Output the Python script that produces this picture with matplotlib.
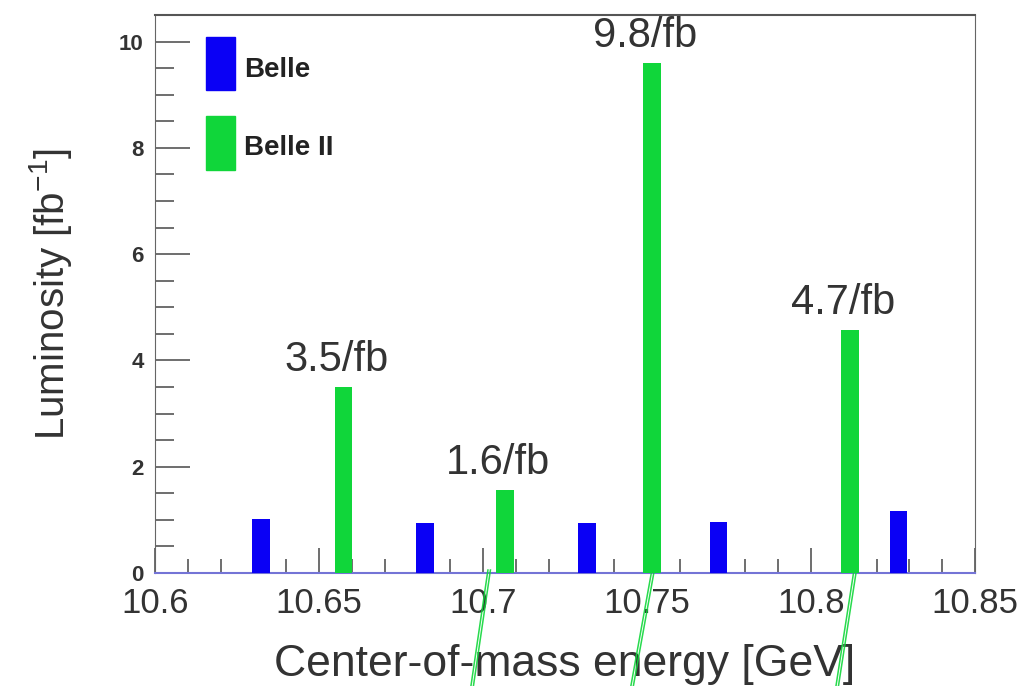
import numpy as np
import matplotlib.pyplot as plt
from matplotlib.ticker import MultipleLocator, FixedLocator
from matplotlib.lines import Line2D

plt.rcParams['font.family'] = ['Liberation Sans', 'DejaVu Sans']
plt.rcParams['mathtext.fontset'] = 'custom'
plt.rcParams['mathtext.rm'] = 'Liberation Sans'

# --- Data ---
belle_E = [10.6323, 10.6823, 10.7317, 10.7718, 10.8267]
belle_L = [1.01, 0.94, 0.94, 0.96, 1.17]
belle2_E = [10.6575, 10.7067, 10.7515, 10.8119]
belle2_L = [3.5, 1.57, 9.6, 4.58]
belle2_text = ['3.5/fb', '1.6/fb', '9.8/fb', '4.7/fb']
xticks = [10.6, 10.65, 10.7, 10.75, 10.8, 10.85]
xtick_labels = ['10.6', '10.65', '10.7', '10.75', '10.8', '10.85']

blue = '#0a00f5'
green = '#10d63a'
txt = '#333333'

fig = plt.figure(figsize=(10.23, 6.86), dpi=100)
ax = fig.add_axes([0.1515, 0.1647, 0.8015, 0.8133])

w = 0.0053
ax.bar(belle_E, belle_L, width=w, color=blue, zorder=3)
ax.bar(belle2_E, belle2_L, width=w, color=green, zorder=3)

# --- labels above the Belle II bars ---
for x, y, s in zip(belle2_E, belle2_L, belle2_text):
    ax.annotate(s, (x, y), xytext=(-5, 5), textcoords='offset points',
                ha='center', va='bottom', fontsize=30, color=txt)

ax.set_xlim(10.6, 10.85)
ax.set_ylim(0, 10.5)

ax.xaxis.set_major_locator(FixedLocator(xticks))
ax.set_xticklabels(xtick_labels)
ax.xaxis.set_minor_locator(MultipleLocator(0.01))
ax.yaxis.set_major_locator(MultipleLocator(2))
ax.yaxis.set_minor_locator(MultipleLocator(0.5))

ax.tick_params(axis='x', which='both', direction='in', top=False, labelsize=25,
               labelcolor=txt, pad=10, color='#555555')
ax.tick_params(axis='x', which='major', length=18, width=1.2)
ax.tick_params(axis='x', which='minor', length=10, width=1.2)
ax.tick_params(axis='y', which='both', direction='in', right=False, labelsize=16,
               labelcolor=txt, color='#555555', pad=8)
ax.tick_params(axis='y', which='major', length=25, width=1.2)
ax.tick_params(axis='y', which='minor', length=14, width=1.2)
for lab in ax.get_yticklabels():
    lab.set_fontweight('bold')

for side in ['left', 'right']:
    ax.spines[side].set_color('#666666')
ax.spines['top'].set_color('#555555')
ax.spines['top'].set_linewidth(1.5)
ax.spines['bottom'].set_color('#7474d6')
ax.spines['bottom'].set_linewidth(1.5)

ax.set_xlabel('Center-of-mass energy [GeV]', fontsize=32, color=txt)
ax.xaxis.set_label_coords(0.5, -0.127)
ax.set_ylabel('Luminosity [fb$^{-1}$]', fontsize=29, color=txt)
ax.yaxis.set_label_coords(-0.099, 0.5)

# --- legend drawn as in the original ---
ax.add_patch(plt.Rectangle((0.062, 0.866), 0.036, 0.094, transform=ax.transAxes,
                           color=blue, zorder=4))
ax.add_patch(plt.Rectangle((0.062, 0.723), 0.036, 0.096, transform=ax.transAxes,
                           color=green, zorder=4))
ax.text(0.109, 0.902, 'Belle', transform=ax.transAxes, fontsize=20,
        fontweight='bold', color='#222222', va='center')
ax.text(0.109, 0.762, 'Belle II', transform=ax.transAxes, fontsize=20,
        fontweight='bold', color='#222222', va='center')

# --- green pen strokes below the axis (pixel offsets from the bars) ---
shift_top = [-16, 1, 5]
shift_bot = [-33, -20, -13]
W, H = fig.get_size_inches() * fig.dpi
for x, st, sb in zip(belle2_E[1:], shift_top, shift_bot):
    px = ax.transData.transform((x, 0))[0]
    for d in (-1.0, 1.5):
        fig.add_artist(Line2D([(px + st + d) / W, (px + sb + d) / W],
                              [(H - 570) / H, 0], transform=fig.transFigure,
                              color=green, lw=1.1, alpha=0.9, zorder=5))

fig.savefig('out.png', dpi=100)
